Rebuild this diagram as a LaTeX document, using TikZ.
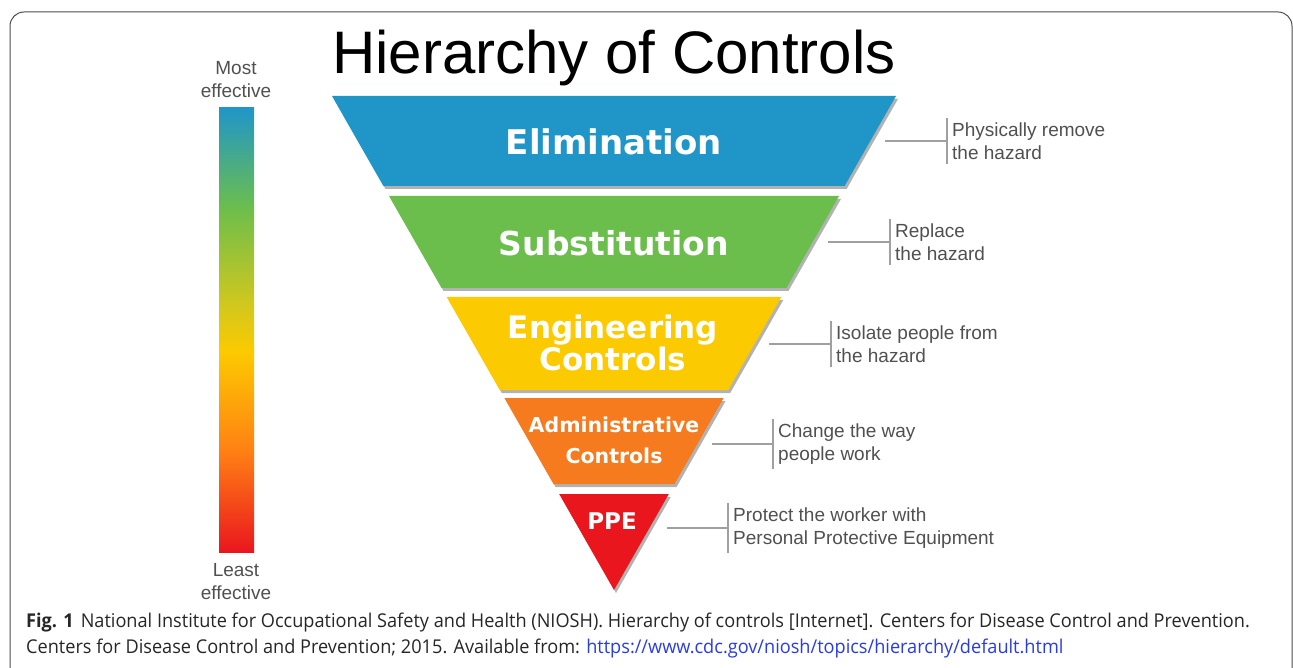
\documentclass[tikz,border=0pt]{standalone}
\usepackage{fontspec}
\setmainfont{Liberation Sans}
\newfontfamily\bandfont{DejaVu Sans}
\newfontfamily\capfont[FakeStretch=0.955]{Open Sans}
\usetikzlibrary{positioning}
\usetikzlibrary{shadows}

\definecolor{elimcol}{RGB}{32,150,200}
\definecolor{substcol}{RGB}{108,190,76}
\definecolor{engcol}{RGB}{252,202,0}
\definecolor{admincol}{RGB}{246,122,30}
\definecolor{ppecol}{RGB}{234,22,30}
\definecolor{barolive}{RGB}{212,200,28}
\definecolor{barorange}{RGB}{255,128,20}
\definecolor{desctext}{RGB}{80,80,80}
\definecolor{leadgray}{RGB}{160,160,160}
\definecolor{linkblue}{RGB}{40,60,230}

\tikzset{
	band/.style={drop shadow={shadow xshift=2pt,shadow yshift=-3pt,opacity=0.3,fill=black}},
	bandtext/.style 2 args={text=white,align=center,font=\bandfont\bfseries\fontsize{#1}{#2}\selectfont},
	desc/.style={anchor=west,align=left,inner xsep=5pt,inner ysep=4pt,text=desctext,font=\fontsize{19}{23}\selectfont},
	lead/.style={draw=leadgray,line width=1.5pt},
	endtext/.style={align=center,text=desctext,font=\fontsize{19}{23}\selectfont}
}

\begin{document}
\begin{tikzpicture}[x=1pt,y=-1pt]
	\useasboundingbox (0,0) rectangle (1293,668);
	\draw [black!70,line width=1pt,rounded corners=14pt] (10,668) -- (10,12) -- (1292,12) -- (1292,668);
	% title
	\node (title) [font=\fontsize{60}{68}\selectfont] at (614,58) {Hierarchy of Controls};
	% effectiveness bar
	\shade [top color=elimcol,bottom color=substcol] (219,108) rectangle (254,208);
	\shade [top color=substcol,bottom color=barolive] (219,207.5) rectangle (254,308);
	\shade [top color=barolive,bottom color=engcol] (219,307.5) rectangle (254,352);
	\shade [top color=engcol,bottom color=barorange] (219,351.5) rectangle (254,452);
	\shade [top color=barorange,bottom color=ppecol] (219,451.5) rectangle (254,552);
	\node (most)  [endtext] at (236,80) {Most\\effective};
	\node (least) [endtext] at (236,582) {Least\\effective};
	% inverted pyramid
	\fill [band,elimcol]   (332,96) -- (896,96) -- (844.6,186) -- (383.4,186) -- cycle;
	\fill [band,substcol]  (389,196) -- (839,196) -- (786.4,288) -- (441.6,288) -- cycle;
	\fill [band,engcol]    (446.7,297) -- (781.3,297) -- (728.2,390) -- (499.8,390) -- cycle;
	\fill [band,admincol]  (504.4,398) -- (723.6,398) -- (674.5,484) -- (553.5,484) -- cycle;
	\fill [band,ppecol]    (559.2,494) -- (668.8,494) -- (614,590) -- cycle;
	\node (elim)  [bandtext={34}{36}] at (614,142) {Elimination};
	\node (subst) [bandtext={33}{36}] at (614,243) {Substitution};
	\node (eng)   [bandtext={31}{32}] at (613,343) {Engineering\\Controls};
	\node (admin) [bandtext={20.5}{31}] at (614,440) {Administrative\\Controls};
	\node (ppe)   [bandtext={23}{25}] at (612,521) {PPE};
	% descriptions
	\coordinate (elim-lead)  at (885,141);
	\coordinate (subst-lead) at (828,242);
	\coordinate (eng-lead)   at (769,344);
	\coordinate (admin-lead) at (712,444);
	\coordinate (ppe-lead)   at (667,528);
	\node (elim-desc)  [desc] at (947,141) {Physically remove\\the hazard};
	\node (subst-desc) [desc] at (890,242) {Replace\\the hazard};
	\node (eng-desc)   [desc] at (831,344) {Isolate people from\\the hazard};
	\node (admin-desc) [desc] at (773,444) {Change the way\\people work};
	\node (ppe-desc)   [desc] at (728,528) {Protect the worker with\\Personal Protective Equipment};
	\foreach \n in {elim,subst,eng,admin,ppe}{
		\draw [lead] (\n-lead) -- (\n-desc.west);
		\draw [lead] (\n-desc.north west) -- (\n-desc.south west);
	}
	% caption
	\node (caption) [anchor=north west,align=left,inner sep=0pt,text=black!85,font=\capfont\fontsize{19}{26}\selectfont] at (26,613)
		{\textbf{Fig. 1}\hspace{7pt}National Institute for Occupational Safety and Health (NIOSH). Hierarchy of controls [Internet]. Centers for Disease Control and Prevention.\\
		Centers for Disease Control and Prevention; 2015. Available from: \textcolor{linkblue}{https://www.cdc.gov/niosh/topics/hierarchy/default.html}};
\end{tikzpicture}
\end{document}
